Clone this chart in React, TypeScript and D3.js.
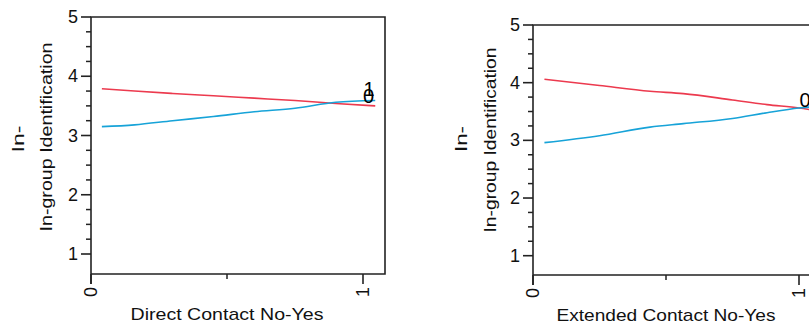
import React from "react";
import * as d3 from "d3";

// ---- data ----
const yTickValues = [1, 2, 3, 4, 5];
const yMinorValues = [1.25, 1.5, 1.75, 2.25, 2.5, 2.75, 3.25, 3.5, 3.75, 4.25, 4.5, 4.75];
const xTickLabels = ["0", "1"];
const xTickValues = [0, 1];
const xMinorValues = [0.5];

const directX = [0.04, 0.16, 0.3, 0.45, 0.6, 0.75, 0.9, 1.045];
const directRed = [3.79, 3.75, 3.71, 3.67, 3.63, 3.59, 3.54, 3.5];
const directBlue = [3.15, 3.18, 3.25, 3.32, 3.4, 3.46, 3.56, 3.59];

const extendedX = [0.043, 0.25, 0.44, 0.565, 0.75, 0.88, 1.0, 1.045];
const extendedRed = [4.06, 3.95, 3.85, 3.81, 3.7, 3.62, 3.56, 3.53];
const extendedBlue = [2.96, 3.08, 3.23, 3.29, 3.38, 3.48, 3.56, 3.58];

const yTitleLine1 = "In-";
const yTitleLine2 = "In-group Identification";
const directTitle = "Direct Contact No-Yes";
const extendedTitle = "Extended Contact No-Yes";

// end labels: [text, x, y]
const directEndLabels: [string, number, number][] = [
  ["1", 1.022, 3.67],
  ["0", 1.02, 3.55],
];
const extendedEndLabels: [string, number, number][] = [["0", 1.023, 3.58]];

const RED = "#ec3a4e";
const BLUE = "#17a3d8";
const AXIS = "#222";
const FONT = "'Liberation Sans', Arial, sans-serif";

type PanelProps = {
  x0: number; x1: number; right: number;
  yTop: number; yOne: number; bottom: number;
  xs: number[]; red: number[]; blue: number[];
  title: string; titleLen: number;
  ytl1: number; ytl2: number; ytCy1: number; ytCy2: number; ytLen2: number; ytLen1: number;
  endLabels: [string, number, number][];
};

function Panel(p: PanelProps) {
  const x = d3.scaleLinear().domain([0, 1]).range([p.x0, p.x1]);
  const y = d3.scaleLinear().domain([1, 5]).range([p.yOne, p.yTop]);
  const line = d3
    .line<[number, number]>()
    .x((d) => x(d[0]))
    .y((d) => y(d[1]))
    .curve(d3.curveMonotoneX);
  const redPts = p.xs.map((v, i) => [v, p.red[i]] as [number, number]);
  const bluePts = p.xs.map((v, i) => [v, p.blue[i]] as [number, number]);
  const left = x(0);
  const titleX = x(0.5);
  return (
    <g fontFamily={FONT}>
      {/* frame */}
      <path
        d={`M${left},${p.bottom + 10} V${y(5)} H${p.right} V${p.bottom} H${left}`}
        fill="none"
        stroke={AXIS}
        strokeWidth={1.6}
      />
      {/* y ticks */}
      {yTickValues.map((v) => (
        <g key={"yt" + v}>
          <line x1={left - 10} x2={left} y1={y(v)} y2={y(v)} stroke={AXIS} strokeWidth={1.6} />
          <text x={left - 13} y={y(v)} textAnchor="end" dominantBaseline="central" fontSize={18} fill="#111">
            {v}
          </text>
        </g>
      ))}
      {yMinorValues.map((v) => (
        <line key={"ym" + v} x1={left - 5} x2={left} y1={y(v)} y2={y(v)} stroke={AXIS} strokeWidth={1.5} />
      ))}
      {/* x ticks */}
      {xTickValues.map((v, i) => (
        <g key={"xt" + v}>
          <line x1={x(v)} x2={x(v)} y1={p.bottom} y2={p.bottom + 10} stroke={AXIS} strokeWidth={1.6} />
          <text
            transform={`translate(${x(v)},${p.bottom + 13}) rotate(-90)`}
            textAnchor="end"
            dominantBaseline="central"
            fontSize={18}
            fill="#111"
          >
            {xTickLabels[i]}
          </text>
        </g>
      ))}
      {xMinorValues.map((v) => (
        <line key={"xm" + v} x1={x(v)} x2={x(v)} y1={p.bottom} y2={p.bottom + 5} stroke={AXIS} strokeWidth={1.5} />
      ))}
      {/* lines */}
      <path d={line(redPts) || ""} fill="none" stroke={RED} strokeWidth={1.6} />
      <path d={line(bluePts) || ""} fill="none" stroke={BLUE} strokeWidth={1.6} />
      {p.endLabels.map(([t, lx, ly], i) => (
        <text key={"el" + i} x={x(lx)} y={y(ly)} textAnchor="middle" fontSize={20} fill="#000">
          {t}
        </text>
      ))}
      {/* titles */}
      <text
        x={titleX}
        y={p.bottom + 45.5}
        textAnchor="middle"
        fontSize={17}
        fill="#111"
        textLength={p.titleLen}
        lengthAdjust="spacingAndGlyphs"
      >
        {p.title}
      </text>
      <text
        transform={`translate(${p.ytl1},${p.ytCy1}) rotate(-90)`}
        textAnchor="middle"
        dominantBaseline="central"
        fontSize={17}
        fill="#111"
        textLength={p.ytLen1}
        lengthAdjust="spacingAndGlyphs"
      >
        {yTitleLine1}
      </text>
      <text
        transform={`translate(${p.ytl2},${p.ytCy2}) rotate(-90)`}
        textAnchor="middle"
        dominantBaseline="central"
        fontSize={17}
        fill="#111"
        textLength={p.ytLen2}
        lengthAdjust="spacingAndGlyphs"
      >
        {yTitleLine2}
      </text>
    </g>
  );
}

export default function App() {
  return (
    <div style={{ position: "fixed", left: 0, top: 0 }}>
      <svg width={809} height={324} style={{ display: "block", background: "#fff" }}>
        <Panel
          x0={91} x1={363} right={385}
          yTop={17} yOne={254} bottom={274}
          xs={directX} red={directRed} blue={directBlue}
          title={directTitle} titleLen={193}
          ytl1={18} ytl2={46} ytCy1={139} ytCy2={137} ytLen1={27} ytLen2={189}
          endLabels={directEndLabels}
        />
        <Panel
          x0={533} x1={799} right={830}
          yTop={25} yOne={255.7} bottom={275}
          xs={extendedX} red={extendedRed} blue={extendedBlue}
          title={extendedTitle} titleLen={219}
          ytl1={461} ytl2={490} ytCy1={139} ytCy2={140} ytLen1={26} ytLen2={185}
          endLabels={extendedEndLabels}
        />
      </svg>
    </div>
  );
}
